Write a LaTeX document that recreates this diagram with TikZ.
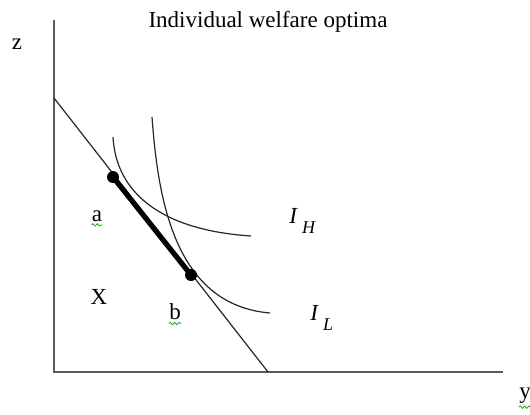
\documentclass[tikz,border=0pt]{standalone}
\usepackage{fontspec}
\setmainfont{Liberation Serif}
\usepackage{tikz}
\usetikzlibrary{positioning,calc,decorations.pathmorphing}
\definecolor{axisgray}{RGB}{90,90,90}
\definecolor{wordgreen}{RGB}{40,160,40}

\begin{document}
\begin{tikzpicture}[x=0.5pt, y=-0.5pt,
    axis/.style={axisgray, line width=1pt},
    curve/.style={black!85, line width=0.6pt},
    optdot/.style={circle, fill=black, inner sep=0pt, minimum size=6pt},
    lbl/.style={inner sep=0pt, font=\fontsize{11.5}{13}\selectfont},
    squig/.style={wordgreen, line width=0.4pt, decorate,
        decoration={snake, amplitude=0.6pt, segment length=2.2pt}}]
    \useasboundingbox (0,0) rectangle (530,414);

    % Axes
    \coordinate (o) at (54,372);
    \coordinate (ztop) at (54,20);
    \coordinate (yend) at (503,372);
    \draw[axis] (ztop) -- (o) -- (yend);
    \node[lbl] (zlab) at (17,44) {z};
    \node[lbl] (ylab) at (525,396) {y};
    \node[lbl] (title) at (268,22) {Individual welfare optima};

    % Budget line
    \coordinate (bl0) at (54,98);
    \coordinate (bl1) at (268,372);
    \draw[curve] (bl0) -- (bl1);

    % Indifference curves
    \draw[curve] (113,137) .. controls (116,192) and (160,230) .. (251,236);
    \draw[curve] (152,117) .. controls (158,200) and (175,305) .. (270,313);

    % Optima
    \node[optdot] (a) at (113,177) {};
    \node[optdot] (b) at (191,275) {};
    \draw[line width=2.6pt] (a.center) -- (b.center);

    % Labels
    \node[lbl] (la) at (97,216) {a};
    \node[lbl] (lx) at (99,297) {X};
    \node[lbl] (lb) at (175,312) {b};
    \node[lbl, anchor=west] (ih) at (289,221) {\itshape I\hspace{2.5pt}\raisebox{-5pt}{\fontsize{9}{10}\selectfont H}};
    \node[lbl, anchor=west] (il) at (310,318) {\itshape I\hspace{2.5pt}\raisebox{-5pt}{\fontsize{9}{10}\selectfont L}};

    % Spelling marks
    \draw[squig] ([yshift=-1.5pt]la.south west) -- ([yshift=-1.5pt]la.south east);
    \draw[squig] ([yshift=-1.5pt]lb.south west) -- ([yshift=-1.5pt]lb.south east);
    \draw[squig] ([yshift=-1.5pt]ylab.south west) -- ([yshift=-1.5pt]ylab.south east);
\end{tikzpicture}
\end{document}
